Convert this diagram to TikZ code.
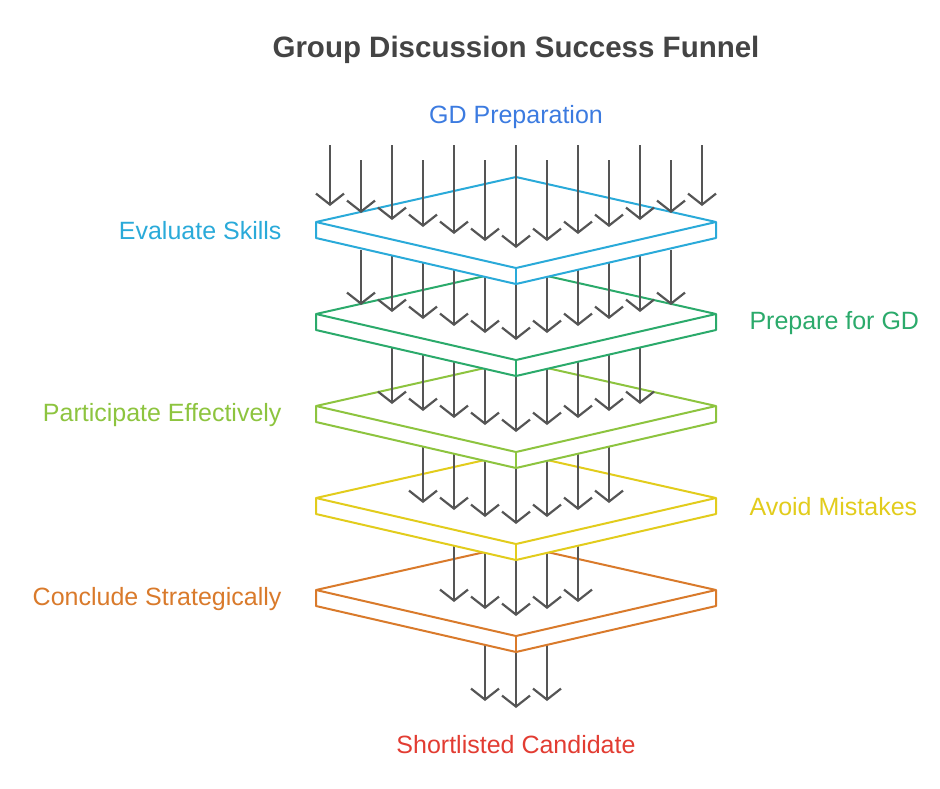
\documentclass[tikz,border=0pt]{standalone}
\usepackage{fontspec}
\setmainfont{Liberation Sans}
\usetikzlibrary{arrows.meta}

\definecolor{titlegray}{HTML}{444444}
\definecolor{arrowgray}{HTML}{555555}
\definecolor{prepblue}{HTML}{3C7BE0}
\definecolor{skillcyan}{HTML}{2AAAD9}
\definecolor{gdgreen}{HTML}{2BAA6B}
\definecolor{partlime}{HTML}{8DC43F}
\definecolor{mistyellow}{HTML}{E2CC1C}
\definecolor{concorange}{HTML}{D97A2B}
\definecolor{listred}{HTML}{E23C32}

\tikzset{
  flow/.style = {draw=arrowgray, line width=2.4pt, -{Straight Barb[length=11pt,width=28pt,line width=2.2pt]}},
  plate/.style = {line width=2pt, line join=round, fill=white},
  label/.style = {font=\fontsize{25}{29}\selectfont},
}

% one plate, top corner at (516,#1)
\newcommand{\plate}[2]{
  \fill[white] (516,#1) -- (716,#1+45) -- (716,#1+61) -- (516,#1+107) -- (316,#1+61) -- (316,#1+45) -- cycle;
  \draw[plate, draw=#2] (516,#1) -- (716,#1+45) -- (716,#1+61) -- (516,#1+107) -- (316,#1+61) -- (316,#1+45) -- cycle;
  \draw[plate, draw=#2, fill=none] (316,#1+45) -- (516,#1+91) -- (716,#1+45);
  \draw[plate, draw=#2, fill=none] (516,#1+91) -- (516,#1+107);
}
% row of arrows, #1 = half count, #2 = tip y at centre, #3 = start y
\newcommand{\flowrow}[3]{
  \foreach \i in {-#1,...,#1}{
    \draw[flow] ({516+31*\i},#3) -- ({516+31*\i},{#2-7*abs(\i)});
  }
}

\begin{document}
\begin{tikzpicture}[x=1pt, y=-1pt]
  \useasboundingbox (0,0) rectangle (940,788);

  \node[font=\fontsize{29.5}{34}\selectfont\bfseries, text=titlegray] (title) at (516,50) {Group Discussion Success Funnel};
  \node[label, text=prepblue] (prep) at (516,117) {GD Preparation};

  \flowrow{1}{708}{600}
  \plate{545}{concorange}
  \flowrow{2}{616}{520}
  \plate{453}{mistyellow}
  \flowrow{3}{524}{430}
  \plate{361}{partlime}
  \flowrow{4}{432}{340}
  \plate{269}{gdgreen}
  \flowrow{5}{340}{250}
  \plate{177}{skillcyan}
  \foreach \i in {-6,...,6}{
    \pgfmathsetmacro{\start}{isodd(\i) ? 160 : 145}
    \draw[flow] ({516+31*\i},\start) -- ({516+31*\i},{248-7*abs(\i)});
  }

  \node[label, text=skillcyan, anchor=east] (skills) at (285,231) {Evaluate Skills};
  \node[label, text=gdgreen, anchor=west] (gd) at (746,323) {Prepare for GD};
  \node[label, text=partlime, anchor=east] (part) at (285,415) {Participate Effectively};
  \node[label, text=mistyellow, anchor=west] (mist) at (746,507) {Avoid Mistakes};
  \node[label, text=concorange, anchor=east] (conc) at (285,599) {Conclude Strategically};
  \node[label, text=listred] (list) at (516,745) {Shortlisted Candidate};
\end{tikzpicture}
\end{document}
